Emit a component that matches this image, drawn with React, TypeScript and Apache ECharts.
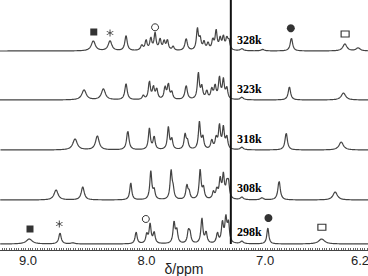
import React, { useEffect, useRef } from "react";
import * as echarts from "echarts";

// Axis range (ppm), reversed as in NMR
const PPM_LEFT = 9.236;
const PPM_RIGHT = 6.132;

// Temperatures and baseline offsets of stacked traces
const temps = ["328k", "323k", "318k", "308k", "298k"];
const baselines = [199, 150, 100, 50, 6];

// Peak lists per trace: [ppm, height, half-width (ppm)]
const peaks328 = [
  [8.449, 10, 0.02], [8.308, 10, 0.018], [8.173, 15, 0.012], [8.04, 5, 0.012],
  [8.004, 10, 0.01], [7.964, 12, 0.01], [7.928, 17, 0.01], [7.886, 11, 0.01],
  [7.852, 9, 0.01], [7.824, 10, 0.01], [7.776, 4, 0.01], [7.666, 12, 0.012],
  [7.571, 21, 0.01], [7.548, 11, 0.01], [7.515, 8, 0.01], [7.481, 7, 0.01],
  [7.441, 10, 0.01], [7.413, 19, 0.01], [7.379, 11, 0.01], [7.352, 13, 0.01],
  [7.323, 11, 0.01], [7.305, 9, 0.01], [7.196, 2, 0.015], [7.02, 1.5, 0.015],
  [6.778, 13, 0.012], [6.327, 7, 0.02], [6.215, 3, 0.02],
];
const peaks323 = [
  [8.527, 10, 0.022], [8.364, 11, 0.02], [8.173, 16, 0.012], [8.027, 4, 0.01],
  [7.976, 18, 0.01], [7.942, 12, 0.01], [7.914, 10, 0.01], [7.844, 12, 0.01],
  [7.816, 15, 0.01], [7.787, 7, 0.01], [7.666, 14, 0.012], [7.563, 26, 0.01],
  [7.534, 12, 0.01], [7.492, 8, 0.01], [7.45, 10, 0.01], [7.422, 13, 0.01],
  [7.385, 21, 0.01], [7.352, 19, 0.01], [7.323, 11, 0.01], [7.196, 2.5, 0.015],
  [6.795, 13, 0.012], [6.339, 7, 0.022],
];
const peaks318 = [
  [8.603, 11, 0.022], [8.415, 14, 0.018], [8.158, 19, 0.012], [7.976, 21, 0.01],
  [7.936, 13, 0.01], [7.816, 22, 0.01], [7.787, 10, 0.01], [7.675, 15, 0.01],
  [7.655, 8, 0.01], [7.554, 27, 0.01], [7.525, 12, 0.01], [7.45, 9, 0.01],
  [7.413, 11, 0.01], [7.385, 23, 0.01], [7.352, 21, 0.01], [7.323, 12, 0.01],
  [7.196, 2.5, 0.015], [6.822, 17, 0.012], [6.358, 8, 0.022],
];
const peaks308 = [
  [8.763, 10, 0.02], [8.538, 13, 0.015], [8.133, 17, 0.01], [7.964, 28, 0.01],
  [7.936, 9, 0.01], [7.793, 28, 0.01], [7.776, 9, 0.01], [7.66, 14, 0.01],
  [7.641, 7, 0.01], [7.548, 29, 0.01], [7.52, 11, 0.01], [7.436, 7, 0.01],
  [7.407, 9, 0.01], [7.379, 19, 0.01], [7.352, 23, 0.01], [7.323, 13, 0.01],
  [7.309, 15, 0.01], [7.196, 2.5, 0.015], [7.027, 2, 0.015], [6.882, 19, 0.012],
  [6.409, 8, 0.022],
];
const peaks298 = [
  [8.989, 5, 0.03], [8.73, 11, 0.012], [8.622, 1, 0.02], [8.088, 12, 0.01],
  [7.998, 9, 0.01], [7.97, 19, 0.01], [7.936, 11, 0.01], [7.768, 21, 0.01],
  [7.745, 13, 0.01], [7.647, 12, 0.01], [7.633, 9, 0.01], [7.533, 25, 0.01],
  [7.498, 11, 0.01], [7.402, 10, 0.01], [7.36, 20, 0.01], [7.331, 24, 0.01],
  [7.309, 19, 0.01], [7.196, 2.5, 0.015], [6.977, 16, 0.01], [6.523, 5, 0.03],
];
const peakLists = [peaks328, peaks323, peaks318, peaks308, peaks298];

// Solvent (CHCl3) line position
const solventPpm = 7.289;

// Peak assignment markers: [ppm, y]
const filledSquares = [[8.445, 218], [8.983, 21]];
const asterisks = [[8.308, 217], [8.736, 26]];
const openCircles = [[7.928, 222.7], [8.006, 31]];
const filledCircles = [[6.783, 221.7], [6.972, 32]];
const openSquares = [[6.325, 216], [6.521, 22.7]];

// Tick labels
const tickLabels = [9.0, 8.0, 7.0, 6.2];

const ASTERISK_PATH =
  "path://M4.4,0 L5.6,0 L5.6,10 L4.4,10 Z M0.97,1.98 L9.63,6.98 L9.03,8.02 L0.37,3.02 Z M0.37,6.98 L9.03,1.98 L9.63,3.02 L0.97,8.02 Z";

function spectrum(peaks: number[][], base: number) {
  const pts: number[][] = [];
  for (let x = PPM_RIGHT; x <= PPM_LEFT + 1e-9; x += 0.002) {
    let y = base;
    for (const [c, h, w] of peaks) {
      const d = x - c;
      y += (h * w * w) / (w * w + d * d);
    }
    pts.push([x, y]);
  }
  return pts;
}

export default function App() {
  const ref = useRef<HTMLDivElement>(null);
  useEffect(() => {
    if (!ref.current) return;
    const chart = echarts.init(ref.current, null, { renderer: "svg" });
    const minorTicks: number[] = [];
    for (let t = 614; t <= 922; t += 2) minorTicks.push(t / 100);

    const specSeries = peakLists.map((p, i) => ({
      type: "line",
      data: spectrum(p, baselines[i]),
      showSymbol: false,
      symbol: "none",
      lineStyle: { color: "#444", width: 1.2 },
      silent: true,
      z: 2,
    }));

    const markerBase = { type: "scatter", silent: true, z: 5 };

    chart.setOption({
      animation: false,
      grid: { left: 0, right: 0, top: 0, bottom: 26, containLabel: false, outerBoundsMode: "none" },
      xAxis: {
        type: "value",
        min: PPM_RIGHT,
        max: PPM_LEFT,
        inverse: true,
        splitLine: { show: false },
        axisLine: { lineStyle: { color: "#444", width: 1 } },
        axisTick: {
          customValues: minorTicks,
          inside: true,
          length: 2,
          lineStyle: { color: "#666", width: 1 },
        },
        axisLabel: {
          customValues: tickLabels,
          formatter: (v: number) => v.toFixed(1),
          fontSize: 13,
          color: "#222",
          fontFamily: "Liberation Sans",
          margin: 4,
        },
        name: "δ/ppm",
        nameLocation: "middle",
        nameGap: 12,
        nameMoveOverlap: false,
        nameTextStyle: { fontSize: 14, color: "#222", fontFamily: "Liberation Sans", verticalAlign: "top" },
      },
      yAxis: { type: "value", min: 0, max: 250, show: false },
      series: [
        ...specSeries,
        {
          type: "line",
          data: [[solventPpm, baselines[4]], [solventPpm, 250]],
          showSymbol: false,
          symbol: "none",
          lineStyle: { color: "#111", width: 2 },
          silent: true,
          z: 3,
        },
        { ...markerBase, data: filledSquares, symbol: "rect", symbolSize: 7, itemStyle: { color: "#000" } },
        {
          ...markerBase,
          data: asterisks,
          symbol: ASTERISK_PATH,
          symbolSize: 7,
          itemStyle: { color: "#000" },
        },
        {
          ...markerBase,
          data: openCircles,
          symbol: "circle",
          symbolSize: 7,
          itemStyle: { color: "#fff", borderColor: "#000", borderWidth: 1 },
        },
        { ...markerBase, data: filledCircles, symbol: "circle", symbolSize: 8, itemStyle: { color: "#000" } },
        {
          ...markerBase,
          data: openSquares,
          symbol: "rect",
          symbolSize: [8, 6],
          itemStyle: { color: "#fff", borderColor: "#000", borderWidth: 1 },
        },
      ],
      graphic: temps.map((t, i) => ({
        type: "text",
        left: 237,
        top: [34, 83, 133, 182, 226][i],
        z: 10,
        style: {
          text: t,
          font: "bold 12px 'Liberation Serif'",
          fill: "#000",
        },
      })),
    });
    return () => chart.dispose();
  }, []);
  return (
    <div
      ref={ref}
      style={{ position: "absolute", left: 0, top: 0, width: 368, height: 276 }}
    />
  );
}
